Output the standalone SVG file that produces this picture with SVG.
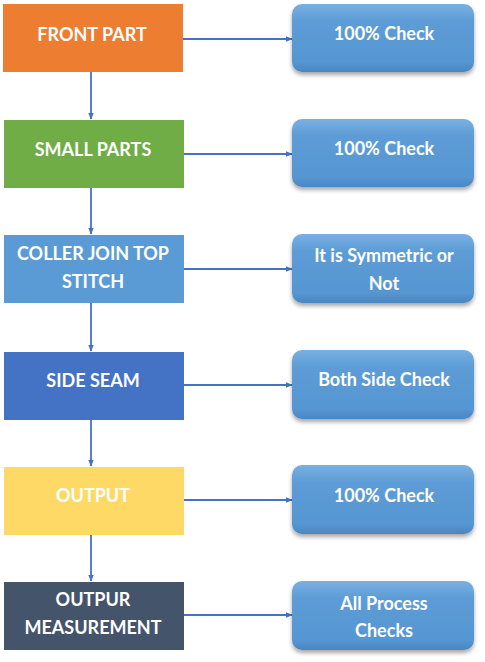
<svg xmlns="http://www.w3.org/2000/svg" width="485" height="662" viewBox="0 0 485 662">
  <style>
    .lbl { font-family: Lato, "Open Sans", "Liberation Sans", sans-serif; font-weight: bold; font-size: 18px; fill: #ffffff; text-anchor: middle; }
    .step { stroke: none; }
    .check { fill: url(#checkFill); filter: url(#shadow); }
    .conn { stroke: #4472C4; stroke-width: 1.8; fill: none; marker-end: url(#arrow); }
  </style>
  <defs>
    <linearGradient id="checkFill" x1="0" y1="0" x2="0" y2="1">
      <stop offset="0" stop-color="#79B0E2"/>
      <stop offset="0.25" stop-color="#5D9CD6"/>
      <stop offset="0.85" stop-color="#5696D2"/>
      <stop offset="1" stop-color="#4A86C2"/>
    </linearGradient>
    <filter id="shadow" x="-10%" y="-10%" width="120%" height="135%">
      <feGaussianBlur in="SourceAlpha" stdDeviation="2"/>
      <feOffset dx="0" dy="3" result="b"/>
      <feComponentTransfer><feFuncA type="linear" slope="0.35"/></feComponentTransfer>
      <feMerge><feMergeNode/><feMergeNode in="SourceGraphic"/></feMerge>
    </filter>
    <marker id="arrow" viewBox="0 0 10 10" refX="9" refY="5" markerWidth="4" markerHeight="4" orient="auto" markerUnits="strokeWidth">
      <path d="M0,1 L10,5 L0,9 z" fill="#4472C4"/>
    </marker>
  </defs>

  <rect width="485" height="662" fill="#ffffff"/>

  <g id="connectors">
    <!-- process flow -->
    <path class="conn" d="M91,72 V119"/>
    <path class="conn" d="M91,188 V234"/>
    <path class="conn" d="M91,303 V351"/>
    <path class="conn" d="M91,420 V466"/>
    <path class="conn" d="M91,535 V581"/>
    <!-- checks -->
    <path class="conn" d="M183,39 H292"/>
    <path class="conn" d="M183,154 H292"/>
    <path class="conn" d="M183,269 H292"/>
    <path class="conn" d="M183,385 H292"/>
    <path class="conn" d="M183,500 H292"/>
    <path class="conn" d="M183,615 H292"/>
  </g>

  <g id="front-part">
    <rect class="step" x="3" y="4" width="180" height="68" fill="#ED7D31"/>
    <text class="lbl" x="92" y="41">FRONT PART</text>
  </g>
  <g id="small-parts">
    <rect class="step" x="4" y="120" width="180" height="68" fill="#70AD47"/>
    <text class="lbl" x="93" y="156">SMALL PARTS</text>
  </g>
  <g id="coller-join">
    <rect class="step" x="4" y="235" width="180" height="68" fill="#5B9BD5"/>
    <text class="lbl" x="93" y="260">COLLER JOIN TOP</text>
    <text class="lbl" x="93" y="288">STITCH</text>
  </g>
  <g id="side-seam">
    <rect class="step" x="4" y="352" width="180" height="68" fill="#4472C4"/>
    <text class="lbl" x="93" y="387">SIDE SEAM</text>
  </g>
  <g id="output">
    <rect class="step" x="4" y="467" width="180" height="68" fill="#FFD966"/>
    <text class="lbl" x="93" y="502">OUTPUT</text>
  </g>
  <g id="outpur-measurement">
    <rect class="step" x="4" y="582" width="180" height="68" fill="#44546A"/>
    <text class="lbl" x="93" y="606">OUTPUR</text>
    <text class="lbl" x="93" y="634">MEASUREMENT</text>
  </g>

  <g id="check-1">
    <rect class="check" x="292" y="4" width="182" height="68" rx="10"/>
    <text class="lbl" x="384" y="40">100% Check</text>
  </g>
  <g id="check-2">
    <rect class="check" x="292" y="119" width="182" height="68" rx="10"/>
    <text class="lbl" x="384" y="155">100% Check</text>
  </g>
  <g id="check-3">
    <rect class="check" x="292" y="234" width="182" height="69" rx="10"/>
    <text class="lbl" x="384" y="262">It is Symmetric or</text>
    <text class="lbl" x="384" y="290">Not</text>
  </g>
  <g id="check-4">
    <rect class="check" x="292" y="350" width="182" height="69" rx="10"/>
    <text class="lbl" x="384" y="386">Both Side Check</text>
  </g>
  <g id="check-5">
    <rect class="check" x="292" y="465" width="182" height="69" rx="10"/>
    <text class="lbl" x="384" y="502">100% Check</text>
  </g>
  <g id="check-6">
    <rect class="check" x="292" y="581" width="182" height="69" rx="10"/>
    <text class="lbl" x="384" y="610">All Process</text>
    <text class="lbl" x="384" y="637">Checks</text>
  </g>
</svg>
